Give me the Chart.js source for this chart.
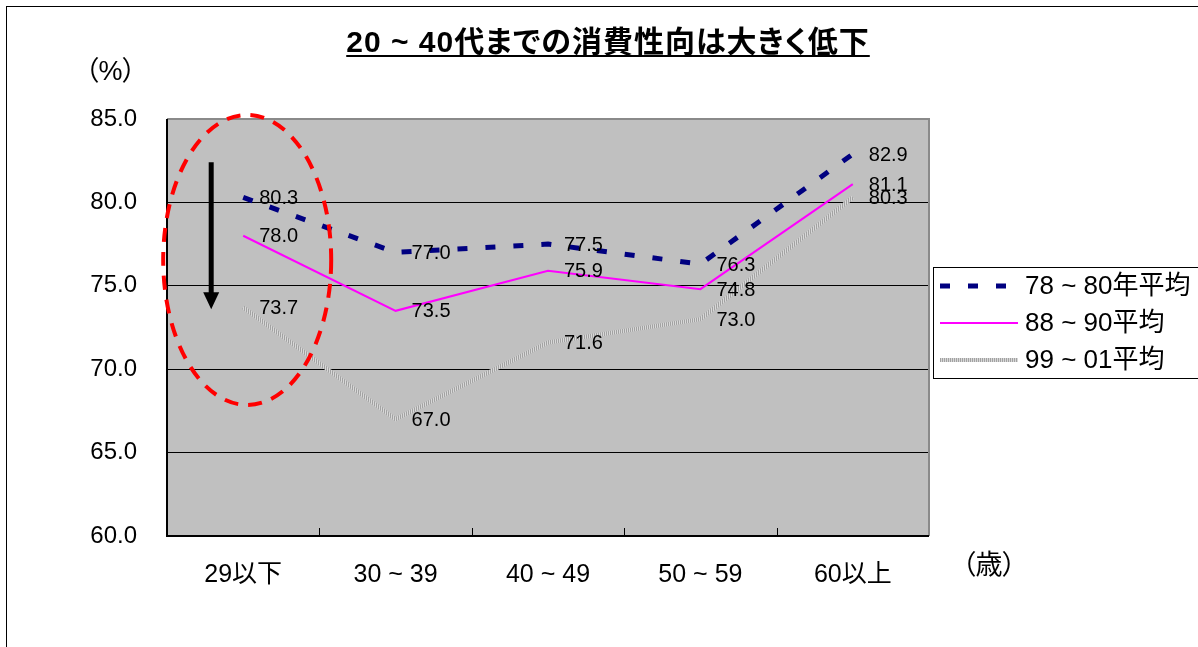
<!DOCTYPE html>
<html><head><meta charset="utf-8">
<script src="https://cdn.jsdelivr.net/npm/chart.js@4.4.0/dist/chart.umd.min.js"></script>
<style>
html,body{margin:0;padding:0;background:#fff;}
#wrap{position:relative;width:1198px;height:647px;overflow:hidden;}
#frame{position:absolute;left:6px;top:6px;width:1300px;height:800px;border-top:1px solid #000;border-left:1px solid #000;}
canvas{position:absolute;left:0;top:0;}
.t{position:absolute;font-family:"Liberation Sans","Noto Sans CJK JP",sans-serif;color:#000;white-space:nowrap;font-feature-settings:"palt";line-height:1;}
#title{left:608px;top:27px;transform:translateX(-50%);font-size:30px;font-weight:bold;text-decoration:underline;text-underline-offset:3px;text-decoration-thickness:2px;letter-spacing:1px;}
#unitY{left:85px;top:58px;font-size:27px;}
#unitX{left:962px;top:552px;font-size:27px;}
</style></head>
<body>
<div id="wrap">
<div id="frame"></div>
<canvas id="c" width="1198" height="647"></canvas>
<div class="t" id="title">20 ~ 40代までの消費性向は大きく低下</div>
<div class="t" id="unitY">（%）</div>
<div class="t" id="unitX">（歳）</div>
</div>
<script>
const categories = ['29以下', '30 ~ 39', '40 ~ 49', '50 ~ 59', '60以上'];
const seriesNames = ['78 ~ 80年平均', '88 ~ 90平均', '99 ~ 01平均'];
const s7880 = [80.3, 77.0, 77.5, 76.3, 82.9];
const s8890 = [78.0, 73.5, 75.9, 74.8, 81.1];
const s9901 = [73.7, 67.0, 71.6, 73.0, 80.3];
const yTicks = [60, 65, 70, 75, 80, 85];

const FF = '"Liberation Sans", "Noto Sans CJK JP", sans-serif';
const canvas = document.getElementById('c');
const ctx0 = canvas.getContext('2d');

const pc = document.createElement('canvas'); pc.width = 2; pc.height = 2;
const pctx = pc.getContext('2d');
pctx.fillStyle = '#a2a2a2'; pctx.fillRect(0, 0, 1, 2);
pctx.fillStyle = '#d8d8d8'; pctx.fillRect(1, 0, 1, 2);
const grayPattern = ctx0.createPattern(pc, 'repeat');

const bgPlugin = {
  id: 'bg',
  beforeDraw(chart) {
    const {ctx, chartArea: a} = chart;
    ctx.save();
    ctx.fillStyle = '#c0c0c0';
    ctx.fillRect(a.left, a.top, a.right - a.left, a.bottom - a.top);
    ctx.restore();
  },
  beforeDatasetsDraw(chart) {
    const {ctx, chartArea: a, scales} = chart;
    ctx.save();
    ctx.strokeStyle = '#8a8a8a'; ctx.lineWidth = 2;
    ctx.beginPath();
    ctx.moveTo(a.left, a.top); ctx.lineTo(a.right, a.top); ctx.lineTo(a.right, a.bottom);
    ctx.stroke();
    ctx.strokeStyle = '#000'; ctx.lineWidth = 2;
    ctx.beginPath();
    ctx.moveTo(a.left, a.top); ctx.lineTo(a.left, a.bottom); ctx.lineTo(a.right, a.bottom);
    ctx.stroke();
    ctx.lineWidth = 1;
    const xs = scales.x;
    for (let i = 0; i < categories.length - 1; i++) {
      const bx = Math.round((xs.getPixelForValue(i) + xs.getPixelForValue(i + 1)) / 2) + 0.5;
      ctx.beginPath(); ctx.moveTo(bx, a.bottom); ctx.lineTo(bx, a.bottom - 8); ctx.stroke();
    }
    ctx.restore();
  }
};

const labelPlugin = {
  id: 'vals',
  afterDatasetsDraw(chart) {
    const {ctx} = chart;
    ctx.save();
    ctx.font = '20px ' + FF;
    ctx.fillStyle = '#000';
    ctx.textAlign = 'left';
    ctx.textBaseline = 'middle';
    chart.data.datasets.forEach((ds, di) => {
      const meta = chart.getDatasetMeta(di);
      meta.data.forEach((pt, i) => {
        ctx.fillText(ds.data[i].toFixed(1), pt.x + 16, pt.y + 1);
      });
    });
    ctx.restore();
  }
};

const annoPlugin = {
  id: 'anno',
  afterDatasetsDraw(chart) {
    const {ctx, scales: {x, y}} = chart;
    const x0 = x.getPixelForValue(0);
    ctx.save();
    ctx.strokeStyle = '#ff0000';
    ctx.lineWidth = 4;
    ctx.setLineDash([14, 10]);
    ctx.beginPath();
    ctx.ellipse(x0 + 4, y.getPixelForValue(76.55), 84, 145, 0, 0, Math.PI * 2);
    ctx.stroke();
    ctx.setLineDash([]);
    const ax = x0 - 32;
    const yTop = y.getPixelForValue(82.4), yTip = y.getPixelForValue(73.6);
    ctx.strokeStyle = '#000'; ctx.fillStyle = '#000';
    ctx.lineWidth = 5;
    ctx.beginPath(); ctx.moveTo(ax, yTop); ctx.lineTo(ax, yTip - 12); ctx.stroke();
    ctx.beginPath();
    ctx.moveTo(ax - 8, yTip - 17); ctx.lineTo(ax + 8, yTip - 17); ctx.lineTo(ax, yTip);
    ctx.closePath(); ctx.fill();
    ctx.restore();
  }
};

const legendPlugin = {
  id: 'lgd',
  afterDraw(chart) {
    const {ctx} = chart;
    const ds = chart.data.datasets;
    ctx.save();
    ctx.strokeStyle = '#000'; ctx.lineWidth = 1;
    ctx.strokeRect(933.5, 267.5, 300, 111);
    const rows = [286, 323, 360];
    ds.forEach((d, i) => {
      const yy = rows[i];
      ctx.strokeStyle = d.borderColor;
      ctx.lineWidth = d.borderWidth;
      ctx.setLineDash(d.borderDash || []);
      ctx.lineCap = 'butt';
      ctx.beginPath(); ctx.moveTo(940, yy); ctx.lineTo(1018, yy); ctx.stroke();
      ctx.setLineDash([]);
      ctx.fillStyle = '#000';
      ctx.font = '26px ' + FF;
      ctx.textBaseline = 'middle';
      ctx.textAlign = 'left';
      ctx.fillText(d.label, 1025, yy + 1);
    });
    ctx.restore();
  }
};

new Chart(canvas, {
  type: 'line',
  data: {
    labels: categories,
    datasets: [
      {label: seriesNames[0], data: s7880, borderColor: '#000080', borderWidth: 5, borderDash: [10, 18], borderCapStyle: 'butt', pointRadius: 0, tension: 0, fill: false},
      {label: seriesNames[1], data: s8890, borderColor: '#ff00ff', borderWidth: 2, pointRadius: 0, tension: 0, fill: false},
      {label: seriesNames[2], data: s9901, borderColor: grayPattern, borderWidth: 4, pointRadius: 0, tension: 0, fill: false}
    ]
  },
  options: {
    responsive: false,
    animation: false,
    devicePixelRatio: 1,
    layout: {padding: {top: 119, right: 269, left: 0, bottom: 0}},
    plugins: {legend: {display: false}, title: {display: false}, tooltip: {enabled: false}},
    events: [],
    scales: {
      x: {
        offset: true,
        grid: {display: false, drawTicks: false},
        border: {display: false},
        ticks: {font: {size: 25, family: FF}, color: '#000', padding: 24, maxRotation: 0, autoSkip: false},
        afterFit: s => { s.height = 111; }
      },
      y: {
        min: 60, max: 85,
        afterBuildTicks: s => { s.ticks = yTicks.map(v => ({value: v})); },
        ticks: {callback: v => Number(v).toFixed(1), font: {size: 24, family: FF}, color: '#000', padding: 30},
        grid: {color: c => (c.tick && (c.tick.value === 60 || c.tick.value === 85)) ? 'rgba(0,0,0,0)' : '#000', lineWidth: 1, drawTicks: false},
        border: {display: false},
        afterFit: s => { s.width = 167; }
      }
    }
  },
  plugins: [bgPlugin, labelPlugin, annoPlugin, legendPlugin]
});
</script>
</body></html>
